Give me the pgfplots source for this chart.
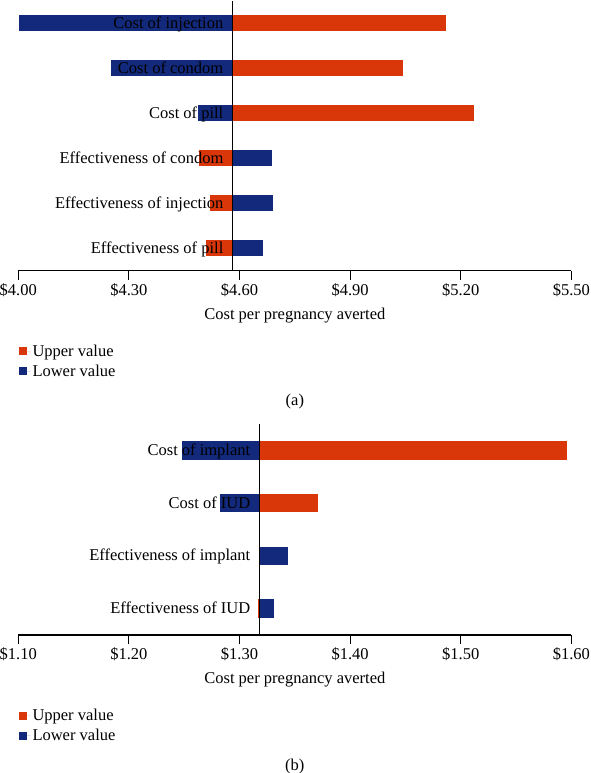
\documentclass[border=0pt]{standalone}
\usepackage{pgfplots}
\pgfplotsset{compat=1.18}
\usepackage{fontspec}
\setmainfont{Liberation Serif}
\definecolor{upc}{HTML}{D9370A}
\definecolor{loc}{HTML}{13297B}
\newcommand{\fs}{\fontsize{16.5}{20}\selectfont}
\tikzset{cat/.style={anchor=base east,inner sep=0pt,xshift=-9pt,yshift=-5pt,font=\fs}}
\begin{document}
\begin{tikzpicture}
\useasboundingbox (0pt,0pt) rectangle (590pt,773pt);
\pgfplotsset{
  sqlegend/.style={legend image code/.code={\fill[##1] (0pt,-4pt) rectangle (8pt,4pt);\path (0pt,0pt) -- (12pt,0pt);}},
  tornado/.style={
    scale only axis, width=553.1pt, anchor=south west,
    axis x line*=bottom, axis y line=none,
    tick align=outside, major tick length=9.3pt,
    x axis line style={line width=1.1pt,-},
    xtick style={line width=0.9pt,black},
    ytick=\empty,
    font=\fs,
    xlabel={Cost per pregnancy averted},
    xlabel style={at={(axis description cs:0.5,0)},anchor=center,yshift=-45pt},
    clip=false,
    legend style={draw=none,fill=none,at={(rel axis cs:0,0)},anchor=north west,
      yshift=-72pt,xshift=0pt,font=\fs,row sep=3pt,inner sep=0pt},
    legend cell align=left,
  },
  upbar/.style={fill=upc,draw=none,forget plot},
  lobar/.style={fill=loc,draw=none,forget plot},
}
% ---------------- (a) ----------------
\begin{axis}[tornado, at={(18.3pt,502.3pt)}, height=270pt,
  xmin=4, xmax=5.5, ymin=0.5, ymax=6.5,
  xtick={4,4.3,4.6,4.9,5.2,5.5},
  xticklabels={\$4.00,\$4.30,\$4.60,\$4.90,\$5.20,\$5.50}]
% Effectiveness of pill (y=1)
\addplot[upbar] coordinates {(4.510,0.825)(4.581,0.825)(4.581,1.175)(4.510,1.175)};
\addplot[lobar] coordinates {(4.581,0.825)(4.663,0.825)(4.663,1.175)(4.581,1.175)};
% Effectiveness of injection (y=2)
\addplot[upbar] coordinates {(4.521,1.825)(4.581,1.825)(4.581,2.175)(4.521,2.175)};
\addplot[lobar] coordinates {(4.581,1.825)(4.692,1.825)(4.692,2.175)(4.581,2.175)};
% Effectiveness of condom (y=3)
\addplot[upbar] coordinates {(4.491,2.825)(4.581,2.825)(4.581,3.175)(4.491,3.175)};
\addplot[lobar] coordinates {(4.581,2.825)(4.687,2.825)(4.687,3.175)(4.581,3.175)};
% Cost of pill (y=4)
\addplot[lobar] coordinates {(4.487,3.825)(4.581,3.825)(4.581,4.175)(4.487,4.175)};
\addplot[upbar] coordinates {(4.581,3.825)(5.237,3.825)(5.237,4.175)(4.581,4.175)};
% Cost of condom (y=5)
\addplot[lobar] coordinates {(4.252,4.825)(4.581,4.825)(4.581,5.175)(4.252,5.175)};
\addplot[upbar] coordinates {(4.581,4.825)(5.042,4.825)(5.042,5.175)(4.581,5.175)};
% Cost of injection (y=6)
\addplot[lobar] coordinates {(4.003,5.825)(4.581,5.825)(4.581,6.175)(4.003,6.175)};
\addplot[upbar] coordinates {(4.581,5.825)(5.160,5.825)(5.160,6.175)(4.581,6.175)};
% baseline
\addplot[black,line width=1.1pt,forget plot] coordinates {(4.581,0.5)(4.581,6.5)};
\addlegendimage{sqlegend,fill=upc,draw=none}
\addlegendentry{Upper value}
\addlegendimage{sqlegend,fill=loc,draw=none}
\addlegendentry{Lower value}
\node[cat] at (axis cs:4.581,1) {Effectiveness of pill};
\node[cat] at (axis cs:4.581,2) {Effectiveness of injection};
\node[cat] at (axis cs:4.581,3) {Effectiveness of condom};
\node[cat] at (axis cs:4.581,4) {Cost of pill};
\node[cat] at (axis cs:4.581,5) {Cost of condom};
\node[cat] at (axis cs:4.581,6) {Cost of injection};
\node[font=\fs] at (rel axis cs:0.5,0) [yshift=-131pt] {(a)};
\end{axis}
% ---------------- (b) ----------------
\begin{axis}[tornado, at={(18.3pt,138pt)}, height=211pt,
  xmin=1.1, xmax=1.6, ymin=0.5, ymax=4.5,
  xtick={1.1,1.2,1.3,1.4,1.5,1.6},
  xticklabels={\$1.10,\$1.20,\$1.30,\$1.40,\$1.50,\$1.60}]
% Effectiveness of IUD (y=1)
\addplot[upbar] coordinates {(1.3165,0.825)(1.318,0.825)(1.318,1.175)(1.3165,1.175)};
\addplot[lobar] coordinates {(1.318,0.825)(1.3315,0.825)(1.3315,1.175)(1.318,1.175)};
% Effectiveness of implant (y=2)
\addplot[lobar] coordinates {(1.318,1.825)(1.344,1.825)(1.344,2.175)(1.318,2.175)};
% Cost of IUD (y=3)
\addplot[lobar] coordinates {(1.2825,2.825)(1.318,2.825)(1.318,3.175)(1.2825,3.175)};
\addplot[upbar] coordinates {(1.318,2.825)(1.371,2.825)(1.371,3.175)(1.318,3.175)};
% Cost of implant (y=4)
\addplot[lobar] coordinates {(1.248,3.825)(1.318,3.825)(1.318,4.175)(1.248,4.175)};
\addplot[upbar] coordinates {(1.318,3.825)(1.596,3.825)(1.596,4.175)(1.318,4.175)};
% baseline
\addplot[black,line width=1.1pt,forget plot] coordinates {(1.318,0.5)(1.318,4.5)};
\addlegendimage{sqlegend,fill=upc,draw=none}
\addlegendentry{Upper value}
\addlegendimage{sqlegend,fill=loc,draw=none}
\addlegendentry{Lower value}
\node[cat] at (axis cs:1.318,1) {Effectiveness of IUD};
\node[cat] at (axis cs:1.318,2) {Effectiveness of implant};
\node[cat] at (axis cs:1.318,3) {Cost of IUD};
\node[cat] at (axis cs:1.318,4) {Cost of implant};
\node[font=\fs] at (rel axis cs:0.5,0) [yshift=-131.7pt] {(b)};
\end{axis}
\end{tikzpicture}
\end{document}
